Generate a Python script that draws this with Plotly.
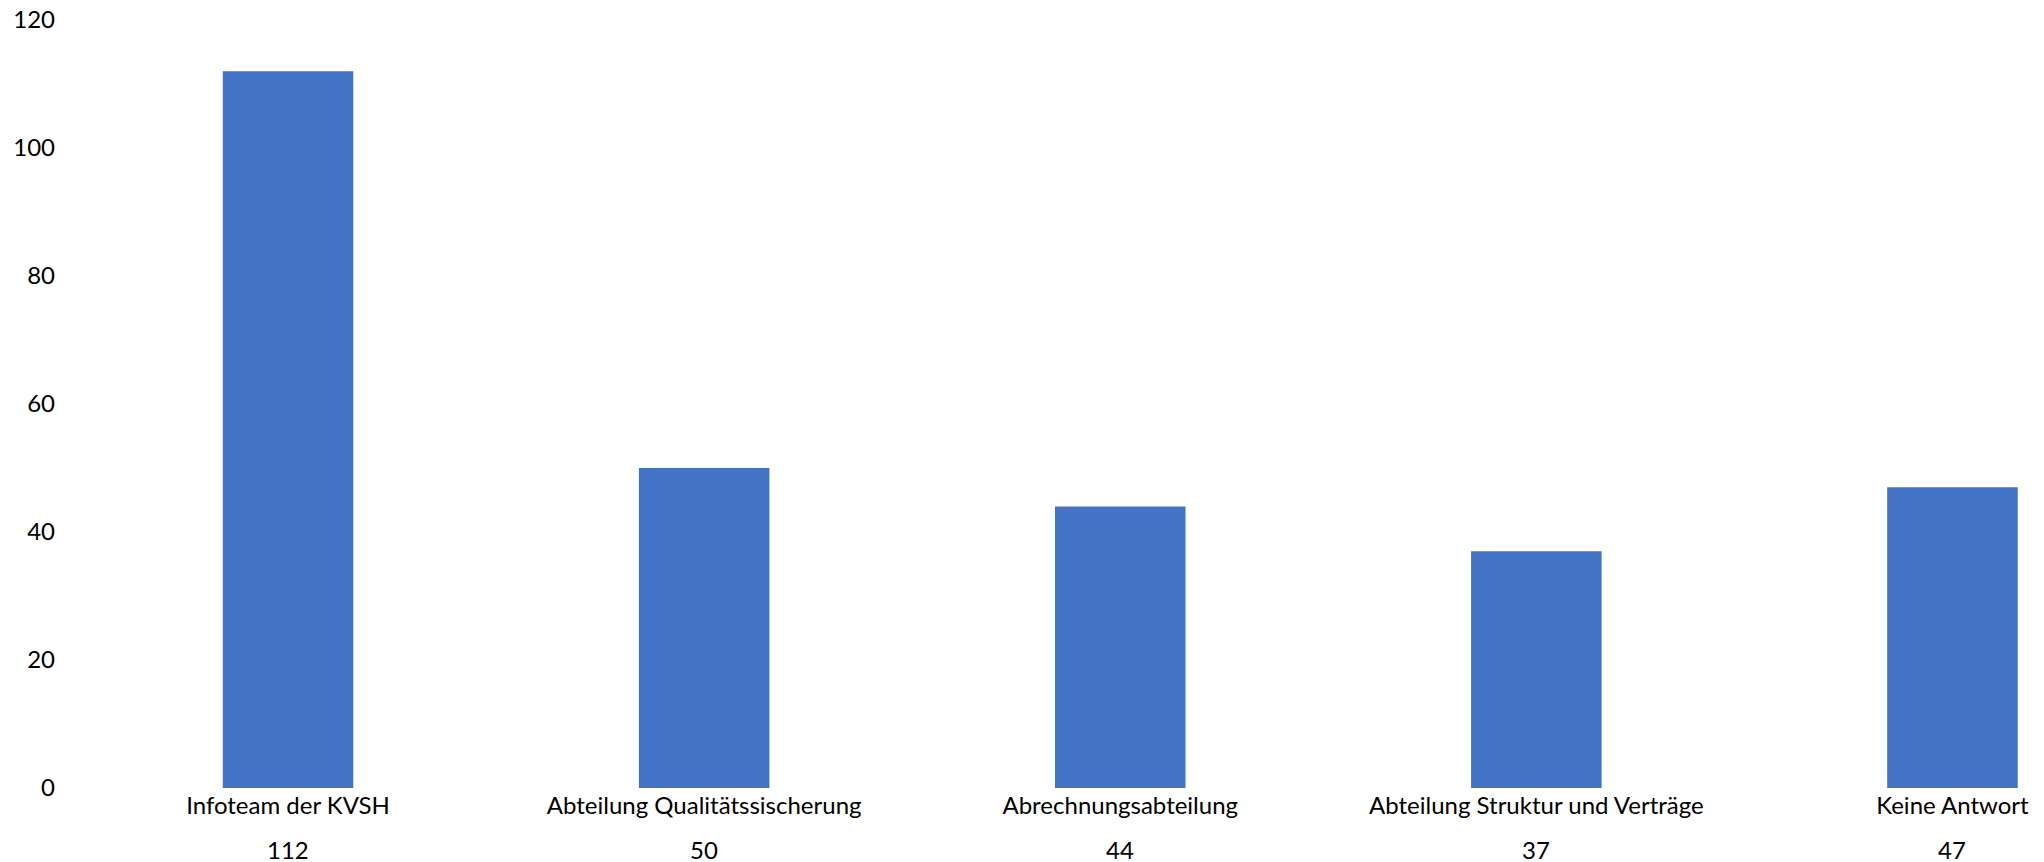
import plotly.graph_objects as go

categories = ["Infoteam der KVSH", "Abteilung Qualitätssischerung", "Abrechnungsabteilung",
              "Abteilung Struktur und Verträge", "Keine Antwort"]
values = [112, 50, 44, 37, 47]
y_ticks = [0, 20, 40, 60, 80, 100, 120]

FONT = "Lato"
FS = 24
fig = go.Figure()
fig.add_trace(go.Bar(x=categories, y=values, marker=dict(color="#4472C4", line=dict(width=0)),
                     width=0.3137))

for c, v in zip(categories, values):
    fig.add_annotation(x=c, y=0, xref="x", yref="y", text=str(v), showarrow=False,
                       yanchor="middle", yshift=-61, font=dict(family=FONT, size=FS, color="#000"))

# page body has an 8px default margin; figure sized to fit the 2044x862 window
fig.update_layout(
    width=2036, height=854,
    margin=dict(l=72, r=0, t=12, b=74, autoexpand=False),
    plot_bgcolor="white", paper_bgcolor="white",
    showlegend=False,
    font=dict(family=FONT, size=FS, color="#000"),
    xaxis=dict(range=[-0.5, 4.22], showgrid=False, showline=False, zeroline=False, automargin=False,
               ticks="", ticklabelstandoff=1, ticklabeloverflow="allow",
               tickfont=dict(family=FONT, size=FS, color="#000")),
    yaxis=dict(range=[0, 120], tickvals=y_ticks, showgrid=False, showline=False, zeroline=False,
               automargin=False, ticklabeloverflow="allow",
               ticks="", ticklabelstandoff=24, tickfont=dict(family=FONT, size=FS, color="#000")),
)
fig.write_html("out.html")
